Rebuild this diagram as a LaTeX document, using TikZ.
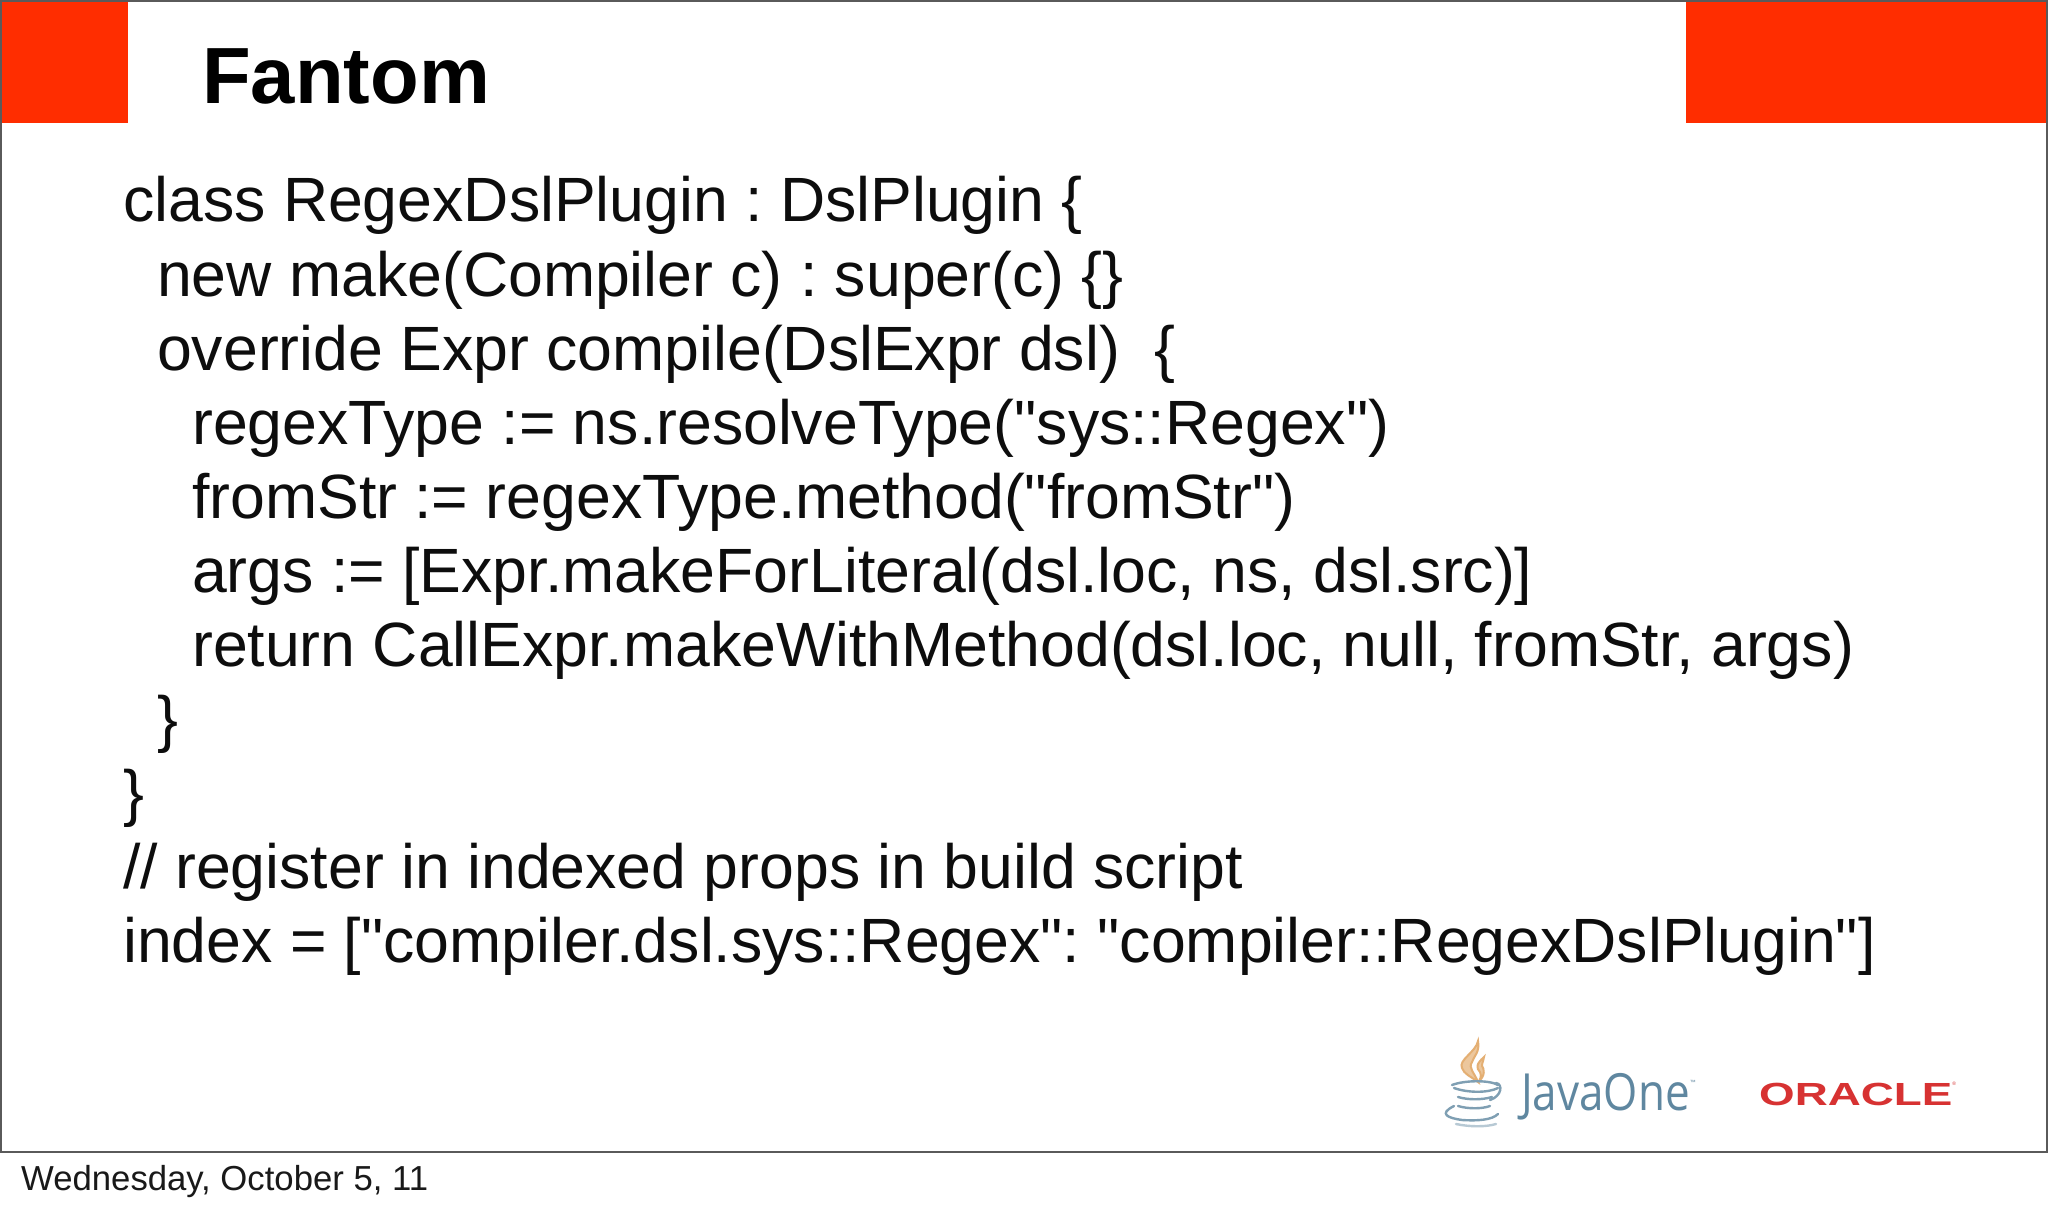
\documentclass[tikz,border=0pt]{standalone}
\usepackage{fontspec}
\newfontfamily\slidefont{Liberation Sans}
\newfontfamily\javafont{Open Sans}
\tikzset{
  x=1pt,y=-1pt,
  code/.style={anchor=base west,inner sep=0pt,font=\slidefont\frenchspacing\fontsize{62.56}{74}\selectfont,text=black!95},
  title/.style={anchor=base west,inner sep=0pt,font=\slidefont\fontsize{79.7}{90}\selectfont\bfseries,text=black},
  foot/.style={anchor=base west,inner sep=0pt,font=\slidefont\frenchspacing\fontsize{34.7}{40}\selectfont,text=black!90},
  redbar/.style={fill=oraclered,draw=none},
  steam/.style={draw=flame,line width=2pt,line cap=round,fill=flame!70},
  cup/.style={draw=javablue!80,line width=2.4pt,line cap=round}
}
\definecolor{oraclered}{RGB}{255,45,0}
\definecolor{frameline}{RGB}{90,90,90}
\definecolor{javablue}{RGB}{95,135,160}
\definecolor{flame}{RGB}{228,175,115}
\definecolor{logored}{RGB}{215,50,50}
\begin{document}
\begin{tikzpicture}
\useasboundingbox (0,0) rectangle (2048,1209);
\fill[white] (0,0) rectangle (2048,1209);
\fill[redbar] (0,0) rectangle (128,123);
\fill[redbar] (1686,0) rectangle (2048,123);
\draw[frameline,line width=2pt] (1,1) rectangle (2047,1152);
\node[title] (t) at (202,104) {Fantom};
\node[code] (l1) at (123,222) {class RegexDslPlugin : DslPlugin \{};
\node[code] (l2) at (157,296) {new make(Compiler c) : super(c) \{\}};
\node[code] (l3) at (157,370) {override Expr compile(DslExpr dsl)\ \ \{};
\node[code] (l4) at (192,444) {regexType := ns.resolveType("sys::Regex")};
\node[code] (l5) at (192,518) {fromStr := regexType.method("fromStr")};
\node[code] (l6) at (192,592) {args := [Expr.makeForLiteral(dsl.loc, ns, dsl.src)]};
\node[code] (l7) at (192,666) {return CallExpr.makeWithMethod(dsl.loc, null, fromStr, args)};
\node[code] (l8) at (157,740) {\}};
\node[code] (l9) at (123,814) {\}};
\node[code] (l10) at (123,888) {// register in indexed props in build script};
\node[code] (l11) at (123,962) {index = ["compiler.dsl.sys::Regex": "compiler::RegexDslPlugin"]};
\node[foot] (f) at (21,1190) {Wednesday, October 5, 11};
% Java logo
\draw[steam] (1478,1041) .. controls (1476,1052) and (1458,1060) .. (1462,1068)
  .. controls (1464,1074) and (1470,1076) .. (1478,1082)
  .. controls (1474,1072) and (1468,1068) .. (1472,1062)
  .. controls (1474,1056) and (1480,1052) .. (1478,1041) -- cycle;
\draw[steam] (1484,1057) .. controls (1476,1064) and (1476,1068) .. (1480,1072)
  .. controls (1482,1076) and (1480,1080) .. (1478,1082)
  .. controls (1486,1076) and (1484,1068) .. (1482,1066)
  .. controls (1482,1062) and (1484,1060) .. (1484,1057) -- cycle;
\draw[cup] (1452,1085) .. controls (1465,1080) and (1490,1080) .. (1498,1085);
\draw[cup] (1454,1088) .. controls (1468,1093) and (1488,1093) .. (1498,1088);
\draw[cup] (1458,1097) .. controls (1468,1100) and (1482,1100) .. (1492,1097);
\draw[cup] (1458,1106) .. controls (1468,1109) and (1482,1109) .. (1490,1106);
\draw[cup] (1496,1083) .. controls (1503,1084) and (1502,1096) .. (1490,1100);
\draw[cup] (1454,1106) .. controls (1438,1114) and (1448,1118) .. (1462,1120)
  .. controls (1478,1121) and (1492,1120) .. (1498,1114);
\draw[cup,draw=javablue!45] (1456,1124) .. controls (1470,1127) and (1486,1127) .. (1496,1124);
\node[anchor=base west,inner sep=0pt,text=javablue] (java) at (1521,1110)
  {\scalebox{1.1}[1.28]{\javafont\fontsize{40}{44}\selectfont JavaOne}\raisebox{26pt}{\slidefont\fontsize{6}{7}\selectfont ™}};
\node[anchor=base west,inner sep=0pt,text=logored] (oracle) at (1759,1105)
  {\scalebox{1.43}[1]{\slidefont\fontsize{32}{36}\selectfont\bfseries ORACLE}\raisebox{20pt}{\slidefont\fontsize{5}{6}\selectfont ®}};
\end{tikzpicture}
\end{document}
